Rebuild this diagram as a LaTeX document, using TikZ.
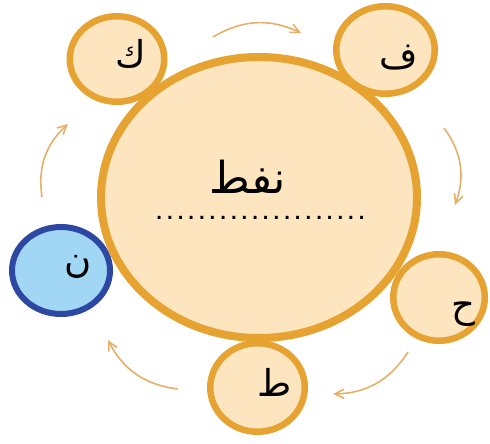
\documentclass[tikz,border=0pt]{standalone}
\usepackage{fontspec}
\newfontfamily\arabicfont[Script=Arabic]{DejaVu Sans}
\newfontfamily\blankfont{DejaVu Sans Mono}
\TeXXeTstate=1
\usetikzlibrary{arrows.meta,shapes.geometric}
\definecolor{peach}{RGB}{253,229,192}
\definecolor{gold}{RGB}{231,163,50}
\definecolor{sky}{RGB}{162,214,245}
\definecolor{navy}{RGB}{44,72,162}
\definecolor{sand}{RGB}{229,176,104}
\tikzset{
  >={Straight Barb[length=3.2mm,width=3.2mm]},
  bubble/.style={ellipse,draw=#1,fill=peach,line width=6.5bp,inner sep=0pt},
  bubble/.default=gold,
  letter/.style={inner sep=0pt,font=\fontsize{37bp}{40bp}\arabicfont},
  title/.style={inner sep=0pt,align=center,font=\fontsize{44bp}{26bp}\arabicfont},
  flow/.style={->,line width=1.6bp,draw=#1},
  flow/.default=sand,
}
\begin{document}
\begin{tikzpicture}[x=1bp,y=1bp]
  \useasboundingbox (0,0) rectangle (490,-444);
  \node[bubble,minimum width=94.5bp,minimum height=85.5bp] (kaf) at (117,-59) {};
  \node[bubble,minimum width=98.5bp,minimum height=87.5bp] (fa) at (385.5,-50) {};
  \node[bubble,minimum width=91.5bp,minimum height=86.5bp] (ha) at (439,-297.5) {};
  \node[bubble,minimum width=94.5bp,minimum height=88.5bp] (ta) at (257.5,-387.5) {};
  \node[bubble=navy,fill=sky,line width=6bp,minimum width=98bp,minimum height=87bp] (nun) at (61,-270.5) {};
  \node[bubble,line width=8bp,minimum width=316bp,minimum height=281bp] (oil) at (259,-197.5) {};
  \node[letter] (kaf text) at (131,-53.5) {\beginR ك\endR};
  \node[letter] (fa text) at (399,-57.5) {\beginR ف\endR};
  \node[letter] (ha text) at (463,-314.5) {\beginR ح\endR};
  \node[letter] (ta text) at (275,-382) {\beginR ط\endR};
  \node[letter] (nun text) at (78.5,-267) {\beginR ن\endR};
  \node[title] (oil text) at (260.5,-189.5)
    {\beginR نفط\endR\kern26bp\\{\blankfont\bfseries\fontsize{17.7bp}{26bp}\selectfont ....................}};
  \coordinate (a1) at (213,-37);  \coordinate (a2) at (301,-33);
  \coordinate (b1) at (444,-128); \coordinate (b2) at (455,-205);
  \coordinate (c1) at (408,-352); \coordinate (c2) at (333,-394);
  \coordinate (d1) at (178,-389); \coordinate (d2) at (108,-340);
  \coordinate (e1) at (42,-197);  \coordinate (e2) at (68,-124);
  \draw[flow] (a1) to[bend left=28] (a2);
  \draw[flow] (b1) to[bend left=28] (b2);
  \draw[flow] (c1) to[bend left=28] (c2);
  \draw[flow] (d1) to[bend left=28] (d2);
  \draw[flow] (e1) to[bend left=28] (e2);
\end{tikzpicture}
\end{document}
